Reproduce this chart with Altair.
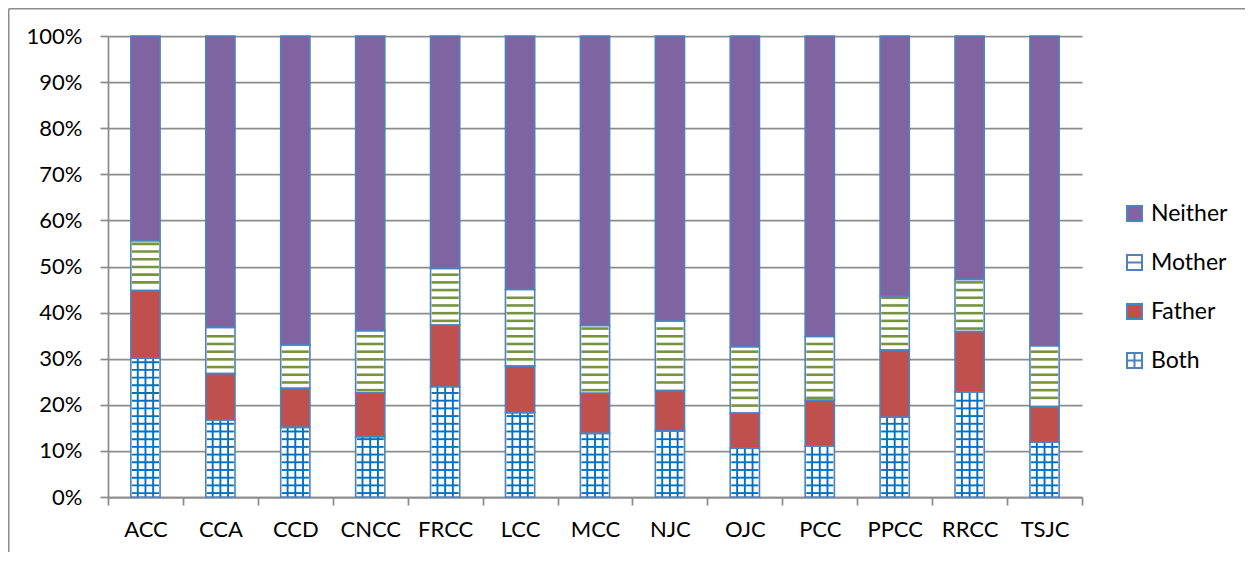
import altair as alt
import numpy as np
import pandas as pd

# ---- data (percent of students) ----
schools = ["ACC", "CCA", "CCD", "CNCC", "FRCC", "LCC", "MCC", "NJC", "OJC", "PCC", "PPCC", "RRCC", "TSJC"]
both    = [30.1, 16.7, 15.1, 13.1, 23.9, 18.3, 13.8, 14.3, 10.6, 11.1, 17.3, 22.8, 11.9]
father  = [14.7, 10.1,  8.5,  9.5, 13.4, 10.1,  8.7,  8.8,  7.6,  9.9, 14.6, 13.1,  7.7]
mother  = [10.8, 10.0,  9.4, 13.5, 12.3, 16.6, 14.7, 15.1, 14.4, 13.8, 11.7, 11.3, 13.2]
neither = [44.4, 63.2, 67.0, 63.9, 50.4, 55.0, 62.8, 61.8, 67.4, 65.2, 56.4, 52.8, 67.2]

series_stack = ["Both", "Father", "Mother", "Neither"]      # bottom -> top
legend_order = ["Neither", "Mother", "Father", "Both"]      # legend top -> bottom
fill_range = ["#8064A2", "#FFFFFF", "#C0504D", "#FFFFFF"]
sq = "M-1,-1H1V1H-1Z"
shape_range = [sq, sq + " M-1,0H1", sq, sq + " M0,-1V1 M-1,0H1"]

BORDER = "#4F81BD"
GRIDC = "#8C8C8C"
FONT = "Lato"

rows = []
for i, s in enumerate(schools):
    for k, (name, vals) in enumerate(zip(series_stack, [both, father, mother, neither])):
        rows.append({"school": s, "series": name, "value": vals[i], "ord": k})
df = pd.DataFrame(rows)

# ---- pattern texture (decoration only): stripe positions inside segments ----
PLOT_H = 461
STEP = 7.7 / PLOT_H
PAD = 1.6 / PLOT_H
mother_rows, both_rows, vline_rows = [], [], []
for i, s in enumerate(schools):
    tot = both[i] + father[i] + mother[i] + neither[i]
    b = both[i] / tot
    lo = (both[i] + father[i]) / tot
    hi = lo + mother[i] / tot
    for p in np.arange(0.0146, 1.0, STEP):
        if lo + PAD < p < hi - PAD:
            mother_rows.append({"school": s, "pos": p})
    for p in np.arange(0.0085, 1.0, STEP):
        if PAD < p < b - PAD:
            both_rows.append({"school": s, "pos": p})
    vline_rows.append({"school": s, "y0": 0.0, "y1": b})
df_m = pd.DataFrame(mother_rows)
df_b = pd.DataFrame(both_rows)
df_v = pd.DataFrame(vline_rows)

W, H = 974, PLOT_H

xaxis = alt.Axis(title=None, labelAngle=0, tickBand="extent", tickSize=8,
                 labelPadding=14, labelFont=FONT, labelFontSize=22, labelColor="black",
                 domainColor=GRIDC, tickColor=GRIDC, domainWidth=1.75, tickWidth=1.75,
                 grid=False)
xscale = alt.Scale(paddingInner=0, paddingOuter=0)
X = alt.X("school:N", sort=schools, scale=xscale, axis=xaxis)

yaxis = alt.Axis(title=None, values=[i / 10 for i in range(11)], format=".0%",
                 tickSize=8, labelPadding=18, labelFont=FONT, labelFontSize=22,
                 labelColor="black", domainColor=GRIDC, tickColor=GRIDC,
                 domainWidth=1.75, tickWidth=1.75, grid=True, gridColor=GRIDC,
                 gridWidth=1.75)
yscale = alt.Scale(domain=[0, 1], nice=False)

legend = alt.Legend(title=None, orient="none", legendX=1015, legendY=166,
                    direction="vertical", symbolSize=225, symbolStrokeColor=BORDER,
                    symbolStrokeWidth=2, labelFont=FONT, labelFontSize=23,
                    labelColor="black", labelOffset=5, rowPadding=25, padding=0)
fill_scale = alt.Scale(domain=legend_order, range=fill_range)
shape_scale = alt.Scale(domain=legend_order, range=shape_range)
stroke_scale = alt.Scale(domain=legend_order, range=[BORDER] * 4)

BW = alt.RelativeBandSize(0.39)

# hidden points (under the bars) that carry the legend's shapes
legend_pts = alt.Chart(df).mark_point(
    filled=True, size=16, strokeWidth=2, opacity=1
).encode(
    x=X,
    y=alt.value(15),
    fill=alt.Fill("series:N", scale=fill_scale, legend=legend),
    shape=alt.Shape("series:N", scale=shape_scale, legend=legend),
    stroke=alt.Stroke("series:N", scale=stroke_scale, legend=legend),
)

bars = alt.Chart(df).mark_bar(width=BW).encode(
    x=X,
    y=alt.Y("value:Q", stack="normalize", scale=yscale, axis=yaxis),
    fill=alt.Fill("series:N", scale=fill_scale, legend=legend),
    order=alt.Order("ord:Q"),
)

mother_stripes = alt.Chart(df_m).mark_tick(
    color="#77933C", thickness=2.6, size=27, opacity=1
).encode(
    x=X, y=alt.Y("pos:Q", scale=yscale, axis=yaxis)
)

both_hlines = alt.Chart(df_b).mark_tick(
    color="#0070C0", thickness=1.9, size=27, opacity=1
).encode(
    x=X, y=alt.Y("pos:Q", scale=yscale, axis=yaxis)
)

vlines = [
    alt.Chart(df_v).mark_rule(color="#0070C0", strokeWidth=1.9, xOffset=off).encode(
        x=X, y=alt.Y("y0:Q", scale=yscale, axis=yaxis), y2="y1:Q"
    )
    for off in (-7.7, 0, 7.7)
]

outlines = alt.Chart(df).mark_bar(
    width=BW, fillOpacity=0, stroke=BORDER, strokeWidth=1.6
).encode(
    x=X,
    y=alt.Y("value:Q", stack="normalize", scale=yscale, axis=yaxis),
    detail="series:N",
    order=alt.Order("ord:Q"),
)

frame_src = alt.Chart(pd.DataFrame({"k": [0]}))
frame_left = frame_src.mark_rule(color=GRIDC, strokeWidth=1.5).encode(
    x=alt.value(-99.25), y=alt.value(-27.25), y2=alt.value(700)
)
frame_top = frame_src.mark_rule(color=GRIDC, strokeWidth=1.5).encode(
    x=alt.value(-99.25), x2=alt.value(1400), y=alt.value(-27.25)
)

chart = alt.layer(
    legend_pts, bars, mother_stripes, both_hlines, *vlines, outlines, frame_left, frame_top
).properties(
    width=W, height=H,
    padding={"left": 100, "top": 28, "right": 163, "bottom": 55},
    autosize=alt.AutoSizeParams(type="none"),
    background="white",
).configure_view(stroke="transparent")

chart.save("out.html", embed_options={"renderer": "svg", "actions": False})
